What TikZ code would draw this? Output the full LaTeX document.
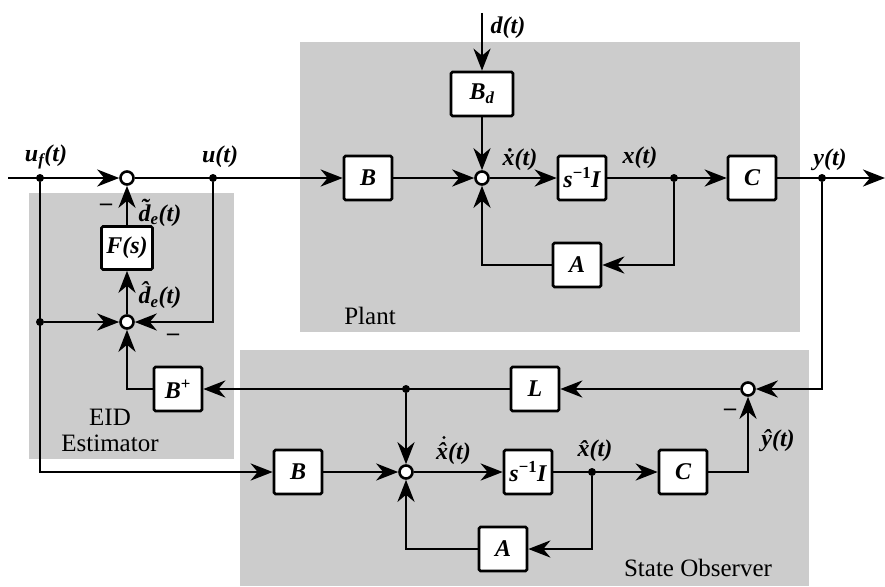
\documentclass[tikz,border=0pt]{standalone}
\usepackage{fontspec}
\setmainfont{Liberation Serif}
\usetikzlibrary{arrows.meta}
\definecolor{bg}{RGB}{204,204,204}
\begin{document}
\begin{tikzpicture}[x=1pt,y=-1pt,
  ln/.style={line width=2.9pt},
  arr/.style={ln,-{Stealth[length=22pt,width=17pt,inset=7pt]}},
  blk/.style={draw, fill=white, line width=2.6pt, rounded corners=1.5pt, minimum width=48pt, minimum height=44pt, inner sep=0pt, font=\fontsize{24}{26}\selectfont\bfseries\itshape},
  sumc/.style={circle, draw, fill=white, line width=2.6pt, minimum size=13pt, inner sep=0pt},
  dot/.style={circle, fill=black, minimum size=8pt, inner sep=0pt},
  lab/.style={font=\fontsize{24}{26}\selectfont\bfseries\itshape, inner sep=0pt},
  mns/.style={font=\fontsize{24}{26}\selectfont\bfseries, inner sep=0pt},
  reg/.style={font=\fontsize{25}{27}\selectfont, inner sep=0pt, align=center}]
\useasboundingbox (0,0) rectangle (885,586);
% background regions
\fill[bg] (300,42) rectangle (800,332);
\fill[bg] (29,193) rectangle (234,459);
\fill[bg] (240,350) rectangle (809,586);
% plant
\coordinate (in) at (8,178);
\node[dot] (ufdot) at (40,178) {};
\node[sumc] (s1) at (127,178) {};
\node[dot] (udot) at (213,178) {};
\node[blk] (B) at (368,178) {B};
\node[sumc] (s2) at (482,178) {};
\node[blk, minimum width=62pt] (Bd) at (482,94) {B\textsubscript{d}};
\coordinate (din) at (482,13);
\node[blk] (SI) at (582,178) {s\textsuperscript{\upshape −1}I};
\node[dot] (xdot) at (674,178) {};
\node[blk] (C) at (752,178) {C};
\node[dot] (ydot) at (822,178) {};
\coordinate (out) at (885,178);
\node[blk] (A) at (577,265) {A};
% EID estimator
\node[blk, minimum width=51pt, minimum height=43pt] (F) at (127,248) {F(s)};
\node[sumc] (s3) at (127,322) {};
\node[dot] (ldot) at (40,322) {};
\node[blk] (Bp) at (178,389) {B\textsuperscript{\upshape +}};
% observer
\node[blk] (Bo) at (298,472) {B};
\node[sumc] (s4) at (406,472) {};
\node[dot] (odot) at (406,389) {};
\node[blk] (L) at (535,389) {L};
\node[sumc] (s5) at (748,389) {};
\node[blk] (SIo) at (528,472) {s\textsuperscript{\upshape −1}I};
\node[dot] (xhdot) at (592,472) {};
\node[blk] (Co) at (683,472) {C};
\node[blk] (Ao) at (503,549) {A};
% connectors: main path
\draw[arr] (in) -- (s1);
\draw[arr] (s1) -- (B);
\draw[arr] (B) -- (s2);
\draw[arr] (din) -- (Bd);
\draw[arr] (Bd) -- (s2);
\draw[arr] (s2) -- (SI);
\draw[arr] (SI) -- (C);
\draw[arr] (C) -- (out);
\draw[arr] (xdot) |- (A);
\draw[arr] (A) -| (s2);
% EID
\draw[arr] (s3) -- (F);
\draw[arr] (F) -- (s1);
\draw[arr] (ldot) -- (s3);
\draw[arr] (udot) |- (s3);
\draw[arr] (Bp) -| (s3);
\draw[arr] (ufdot) |- (Bo);
% observer
\draw[arr] (Bo) -- (s4);
\draw[arr] (odot) -- (s4);
\draw[arr] (s4) -- (SIo);
\draw[arr] (SIo) -- (Co);
\draw[arr] (xhdot) |- (Ao);
\draw[arr] (Ao) -| (s4);
\draw[arr] (Co) -| (s5);
\draw[arr] (ydot) |- (s5);
\draw[arr] (s5) -- (L);
\draw[arr] (L) -- (Bp);
% labels
\node[lab] at (46,157) {u\textsubscript{f}(t)};
\node[lab] at (220,157) {u(t)};
\node[lab] at (508,28) {d(t)};
\node[lab] at (520,160) {x^^^^0307(t)};
\node[lab] at (640,158) {x(t)};
\node[lab] at (830,160) {y(t)};
\node[lab] at (160,213) {d^^^^0303\textsubscript{e}(t)};
\node[lab] at (160,295) {d^^^^0302\textsubscript{e}(t)};
\node[mns] at (106,207) {–};
\node[mns] at (173,337) {–};
\node[mns] at (730,412) {–};
\node[lab, anchor=base west] (xdh) at (436,459) {x^^^^0302(t)};
\fill ([xshift=8pt,yshift=21.5pt]xdh.base west) circle (1.7pt);
\node[lab] at (595,451) {x^^^^0302(t)};
\node[lab] at (778,441) {y^^^^0302(t)};
\node[reg] at (370,316) {Plant};
\node[reg] at (110,430) {EID\\[-1pt]Estimator};
\node[reg] at (698,568) {State Observer};
\end{tikzpicture}
\end{document}
